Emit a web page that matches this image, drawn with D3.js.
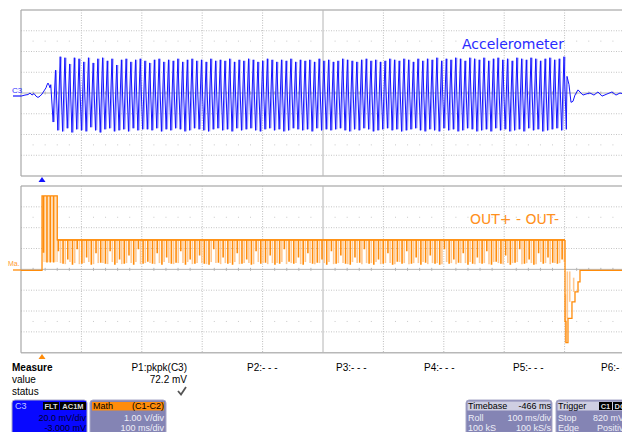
<!DOCTYPE html>
<html><head><meta charset="utf-8">
<script src="https://cdn.jsdelivr.net/npm/d3@7"></script>
<style>body{margin:0;background:#fff}svg{display:block;font-family:"Liberation Sans",Arial,sans-serif}</style>
</head><body><svg id="c" width="622" height="432"></svg>
<script>
// ---- data ----
// time axis: ms (roll mode, 100 ms/div, timebase -466 ms)
const timeDomain = [-966, 34];
// Accelerometer (C3), mV, 20 mV/div
const accelPreT = [-966,-959.4,-954.4,-951.1,-947.8,-944.5,-941.2,-937.9,-934.5,-931.2,-927.9,-924.6,-923.0,-921.3,-919.6,-918.0];
const accelPreV = [-3,-2,-1.5,0,-2,-0.5,-3,-4.3,-3,-1,2,5,7.7,9.6,7.7,5];
const burstStartT = -916.7;   // first cycle
const burstPeriod = 7.795;    // ms per cycle
const accelHigh = [
 8,22,35,34,28,34,33,30,34,29,33,34,31,33,27,32,33,30,32,33,
 31,29,32,33,30,32,31,33,30,32,33,31,32,30,33,31,32,31,33,30,
 32,31,33,32,30,31,33,32,30,32,31,33,30,32,31,32,30,33,31,32,
 30,31,33,32,31,30,32,33,31,32,30,31,33,32,31,33,32,30,33,31,
 33,32,34,31,33,32,34,33,31,34,33,32,34,31,33,34,32,33,31,34,
 33,32,34,33,31,33,34,32,33,35];
const accelLow = [
 -28,-36,-37,-34,-38,-35,-36,-37,-33,-36,-38,-35,-34,-37,-36,-35,-37,-34,-36,-35,
 -35,-36,-34,-37,-35,-36,-34,-35,-37,-36,-34,-35,-36,-37,-35,-34,-36,-35,-37,-34,
 -36,-35,-34,-36,-37,-35,-34,-36,-35,-37,-36,-34,-35,-36,-35,-37,-34,-36,-35,-36,
 -35,-34,-36,-37,-35,-36,-34,-35,-37,-36,-35,-34,-36,-35,-37,-36,-35,-34,-36,-37,
 -35,-36,-37,-34,-36,-35,-37,-36,-34,-35,-37,-36,-35,-37,-34,-36,-35,-37,-36,-35,
 -37,-34,-36,-35,-37,-36,-35,-34,-36,-35];
const accelPostT = [-62.0,-58.7,-55.4,-52.1,-48.8,-43.8,-38.9,-35.6,-30.6,-24.0,-17.4,-10.8,-4.1,4.1,12.4,19.1,25.7,32.3];
const accelPostV = [16,8,-9,-8,-2,3,0,-2,-1,0,-2,1,-3,-1,1,-2,0,-1];

// Math (C1-C2), V, 1 V/div
const outStartT = [-966,-931.2];
const outStartV = [-0.05,-0.05];
const outHighLevel = 3.53, outHighStart = -931.2, outHighEnd = -906.0;
const outHighSpikeT = [-928.8,-923.2,-917.7,-912.2];
const outHighSpikeV = [0.83,0.36,0.36,0.36];
const outHighLightT = [-926.0,-920.5,-915.0,-909.5,-906.5];
const outLevel = 1.41;
const outSpikeStartT = -904.4;
const outSpikeDark = [
 0.9,0.3,0.5,0.25,1.0,0.3,0.6,0.25,0.8,0.35,0.3,0.9,0.25,0.5,0.3,0.7,0.25,1.0,0.3,0.4,
 0.3,0.8,0.25,0.6,0.3,0.35,0.9,0.25,0.5,0.3,0.7,0.3,0.25,1.0,0.35,0.6,0.3,0.25,0.8,0.3,
 0.5,0.25,0.9,0.3,0.35,0.7,0.25,0.3,1.0,0.4,0.3,0.6,0.25,0.8,0.3,0.35,0.5,0.25,0.9,0.3,
 0.7,0.3,0.25,0.6,0.35,1.0,0.3,0.25,0.5,0.3,0.8,0.25,0.4,0.3,0.9,0.3,0.6,0.25,0.35,0.7,
 0.3,0.25,1.0,0.3,0.5,0.35,0.8,0.25,0.3,0.6,0.3,0.9,0.25,0.4,0.3,0.7,0.25,0.35,1.0,0.3,
 0.5,0.25,0.8,0.3,0.6,0.35,0.3,0.5];
const outSpikeLight = [
 0.3,0.25,0.35,0.3,0.25,0.3,0.35,0.25,0.3,0.3,0.25,0.35,0.3,0.25,0.3,0.3,0.35,0.25,0.3,0.3,
 0.25,0.3,0.35,0.3,0.25,0.3,0.3,0.35,0.25,0.3,0.3,0.25,0.35,0.3,0.25,0.3,0.3,0.35,0.25,0.3,
 0.3,0.25,0.35,0.3,0.25,0.3,0.3,0.35,0.25,0.3,0.3,0.25,0.35,0.3,0.25,0.3,0.3,0.35,0.25,0.3,
 0.3,0.25,0.35,0.3,0.25,0.3,0.3,0.35,0.25,0.3,0.3,0.25,0.35,0.3,0.25,0.3,0.3,0.35,0.25,0.3,
 0.3,0.25,0.35,0.3,0.25,0.3,0.3,0.35,0.25,0.3,0.3,0.25,0.35,0.3,0.25,0.3,0.3,0.35,0.25,0.3,
 0.3,0.25,0.35,0.3,0.25,0.3,0.3,0.35];
const outLevelEndT = -65.3;
const outPostT = [-65.3,-63.7,-60.4,-53.8,-48.8,-43.8,-40.5,34];
const outPostV = [-2.5,-3.52,-2.35,-1.56,-1.08,-0.6,-0.05,-0.05];
const outPostLightT = [-64.5,-61.5,-57.5,-51.0];
const outPostLightV = [-1.2,-0.1,-0.1,-0.4];

const measureLabels = ["P1:pkpk(C3)","P2:- - -","P3:- - -","P4:- - -","P5:- - -","P6:- - -"];
const measureValue = "72.2 mV";

// ---- drawing ----
const svg = d3.select("#c");
const x = d3.scaleLinear().domain(timeDomain).range([21, 625]);
const yTop = d3.scaleLinear().domain([-80, 80]).range([176, 10]);
const yBot = d3.scaleLinear().domain([-4, 4]).range([352.7, 186]);
const divW = (x.range()[1]-x.range()[0])/10;

function grid(y, top, bot) {
  const g = svg.append("g");
  const divH = (bot-top)/8;
  for (let k=1;k<10;k++){
    const xx = x.range()[0]+k*divW;
    g.append("line").attr("x1",xx).attr("x2",xx).attr("y1",top).attr("y2",bot)
      .attr("stroke", k===5?"#b4b4b4":"#bdbdbd").attr("stroke-width",1)
      .attr("stroke-dasharray", k===5?null:"1,1.5");
  }
  for (let k=1;k<8;k++){
    const yy = top+k*divH;
    g.append("line").attr("x1",21).attr("x2",622).attr("y1",yy).attr("y2",yy)
      .attr("stroke", k===4?"#b4b4b4":"#c4c4c4").attr("stroke-width",1)
      .attr("stroke-dasharray", k===4?null:"1,1.5");
  }
  const cy = (top+bot)/2;
  for (let k=0;k<10;k++) for (let m=1;m<5;m++){
    const xx = x.range()[0]+k*divW+m*divW/5;
    if (xx>622) continue;
    [cy-2.5*divH, cy+2.5*divH].forEach(yy=>g.append("rect").attr("x",xx-0.5).attr("y",yy-0.5).attr("width",1).attr("height",1).attr("fill","#c8c8c8"));
    g.append("line").attr("x1",xx).attr("x2",xx).attr("y1",cy-1.5).attr("y2",cy+1.5).attr("stroke","#b4b4b4");
  }
  g.append("line").attr("x1",21).attr("x2",622).attr("y1",top).attr("y2",top).attr("stroke","#b8b8b8").attr("stroke-width",1.5);
  g.append("line").attr("x1",21).attr("x2",622).attr("y1",bot).attr("y2",bot).attr("stroke","#b8b8b8").attr("stroke-width",1.5);
  g.append("line").attr("x1",21).attr("x2",21).attr("y1",top).attr("y2",bot).attr("stroke","#a8a8a8").attr("stroke-width",1.2);
}
grid(yTop, 10, 176);
grid(yBot, 186, 352.7);

// accelerometer trace
const accPts = accelPreT.map((t,i)=>[t, accelPreV[i]]);
accelHigh.forEach((h,i)=>{
  accPts.push([burstStartT+i*burstPeriod, h]);
  accPts.push([burstStartT+(i+0.5)*burstPeriod, accelLow[i]]);
});
accelPostT.forEach((t,i)=>accPts.push([t, accelPostV[i]]));
const accLine = d3.line().x(d=>x(d[0])).y(d=>yTop(d[1]));
// light envelope: rising edges, slightly offset
const lg = svg.append("g").attr("fill","none").attr("stroke","#9a9aff").attr("stroke-width",1.3).attr("transform","translate(1.1,0)");
accelHigh.forEach((h,i)=>{
  if (i+1>=accelHigh.length) return;
  lg.append("path").attr("d", accLine([[burstStartT+(i+0.5)*burstPeriod, accelLow[i]],[burstStartT+(i+1)*burstPeriod, accelHigh[i+1]]]));
});
svg.append("path").attr("d", accLine(accPts)).attr("fill","none").attr("stroke","#1414ff").attr("stroke-width",1);
svg.append("line").attr("x1",13).attr("x2",21).attr("y1",96).attr("y2",96).attr("stroke","#1414ff").attr("stroke-width",1.2);
svg.append("text").attr("x",12).attr("y",93).attr("font-size",8).attr("fill","#3030ff").text("C3");

// math trace
const oLine = d3.line().x(d=>x(d[0])).y(d=>yBot(d[1]));
const light = svg.append("g").attr("stroke","#ffc890").attr("stroke-width",1.6).attr("fill","none");
svg.append("rect").attr("x",x(outHighStart)+1).attr("y",yBot(outHighLevel)).attr("width",x(outHighEnd)-x(outHighStart)-1)
  .attr("height",yBot(0.35)-yBot(outHighLevel)).attr("fill","#ffe2c0");
outHighLightT.forEach(t=>light.append("path").attr("d",oLine([[t,outHighLevel],[t,0.35]])));
outSpikeLight.forEach((v,i)=>{const t=outSpikeStartT+(i+0.5)*burstPeriod;
  light.append("path").attr("d",oLine([[t,outLevel],[t,v]]));});
outPostLightT.forEach((t,i)=>light.append("path").attr("d",oLine([[t,outPostV[Math.min(i+1,outPostV.length-1)]],[t,outPostLightV[i]]])));
const oPts = outStartT.map((t,i)=>[t,outStartV[i]]);
oPts.push([outHighStart, outHighLevel]);
outHighSpikeT.forEach((t,i)=>{oPts.push([t,outHighLevel],[t,outHighSpikeV[i]],[t+0.4,outHighSpikeV[i]],[t+0.4,outHighLevel]);});
oPts.push([outHighEnd,outHighLevel],[outHighEnd,outLevel]);
outSpikeDark.forEach((v,i)=>{const t=outSpikeStartT+i*burstPeriod;
  oPts.push([t,outLevel],[t,v],[t+0.5,v],[t+0.5,outLevel]);});
oPts.push([outLevelEndT,outLevel]);
const stepPts = outPostT.map((t,i)=>[t,outPostV[i]]);
svg.append("path").attr("d", oLine(oPts)).attr("fill","none").attr("stroke","#ff8c0a").attr("stroke-width",1.3);
svg.append("line").attr("x1",x(outHighEnd)).attr("x2",x(outLevelEndT)).attr("y1",yBot(outLevel)).attr("y2",yBot(outLevel))
  .attr("stroke","#ff8c0a").attr("stroke-width",1.6);
svg.append("path").attr("d", d3.line().curve(d3.curveStepAfter).x(d=>x(d[0])).y(d=>yBot(d[1]))([[outLevelEndT,outLevel]].concat(stepPts)))
  .attr("fill","none").attr("stroke","#ff8c0a").attr("stroke-width",1.3);
svg.append("line").attr("x1",13).attr("x2",21).attr("y1",270).attr("y2",270).attr("stroke","#ff8c0a").attr("stroke-width",1.3);
svg.append("text").attr("x",8).attr("y",266).attr("font-size",7).attr("fill","#ff9a30").text("Ma.");

// labels
svg.append("text").attr("x",462).attr("y",49).attr("font-family","DejaVu Sans").attr("font-size",14).attr("fill","#2a2aff").text("Accelerometer");
svg.append("text").attr("x",470).attr("y",224).attr("font-family","DejaVu Sans").attr("font-size",14).attr("fill","#ff9020").text("OUT+ - OUT-");

// trigger markers
svg.append("path").attr("d","M38.5,182 L42,177 L45.5,182 Z").attr("fill","#1414ff");
svg.append("path").attr("d","M38.5,359 L42,354 L45.5,359 Z").attr("fill","#ff8c0a");

// measure table
const mt = svg.append("g").attr("font-size",10).attr("fill","#000");
mt.append("text").attr("x",12).attr("y",371).attr("font-weight","bold").text("Measure");
mt.append("text").attr("x",12).attr("y",383).text("value");
mt.append("text").attr("x",12).attr("y",395).text("status");
const mX = [187, 247, 336, 424, 513, 601];
measureLabels.forEach((l,i)=>{
  mt.append("text").attr("x",mX[i]).attr("y",371).attr("text-anchor",i===0?"end":"start").text(l);
});
mt.append("text").attr("x",187).attr("y",383).attr("text-anchor","end").text(measureValue);
mt.append("path").attr("d","M178,391 L181,394.5 L186,387").attr("fill","none").attr("stroke","#555").attr("stroke-width",1.8);

// info boxes
function box(x0,w,fill){
  svg.append("rect").attr("x",x0).attr("y",400).attr("width",w).attr("height",45).attr("rx",3)
    .attr("fill",fill).attr("stroke","#a8a8c8").attr("stroke-width",1);
}
const fs = 9;
box(12,75,"#0808ff");
svg.append("text").attr("x",15).attr("y",409).attr("font-size",fs).attr("fill","#c0c8ff").text("C3");
svg.append("rect").attr("x",43).attr("y",402).attr("width",16).attr("height",8).attr("fill","#000");
svg.append("rect").attr("x",60).attr("y",402).attr("width",26).attr("height",8).attr("fill","#000");
svg.append("text").attr("x",51).attr("y",409).attr("font-size",7.5).attr("font-weight","bold").attr("text-anchor","middle").attr("fill","#ddd").text("FLT");
svg.append("text").attr("x",73).attr("y",409).attr("font-size",7.5).attr("font-weight","bold").attr("text-anchor","middle").attr("fill","#ddd").text("AC1M");
svg.append("text").attr("x",86).attr("y",420.5).attr("font-size",fs).attr("text-anchor","end").attr("fill","#000030").text("20.0 mV/div");
svg.append("text").attr("x",86).attr("y",430.5).attr("font-size",fs).attr("text-anchor","end").attr("fill","#000030").text("-3.000 mV");

box(90,76,"#8484b4");
svg.append("rect").attr("x",92).attr("y",402).attr("width",72).attr("height",8.5).attr("fill","#ff8c0a");
svg.append("text").attr("x",93).attr("y",409).attr("font-size",fs).attr("fill","#000").text("Math");
svg.append("text").attr("x",164).attr("y",409).attr("font-size",fs).attr("text-anchor","end").attr("fill","#000").text("(C1-C2)");
svg.append("text").attr("x",164).attr("y",420.5).attr("font-size",fs).attr("text-anchor","end").attr("fill","#eeeef8").text("1.00 V/div");
svg.append("text").attr("x",164).attr("y",430.5).attr("font-size",fs).attr("text-anchor","end").attr("fill","#eeeef8").text("100 ms/div");

box(466,86,"#8484b4");
svg.append("rect").attr("x",467.5).attr("y",401.5).attr("width",83).attr("height",9).attr("fill","#cfcfe2");
svg.append("text").attr("x",468).attr("y",409).attr("font-size",fs).attr("fill","#000").text("Timebase");
svg.append("text").attr("x",551).attr("y",409).attr("font-size",fs).attr("text-anchor","end").attr("fill","#000").text("-466 ms");
svg.append("text").attr("x",468).attr("y",420.5).attr("font-size",fs).attr("fill","#eeeef8").text("Roll");
svg.append("text").attr("x",551).attr("y",420.5).attr("font-size",fs).attr("text-anchor","end").attr("fill","#eeeef8").text("100 ms/div");
svg.append("text").attr("x",468).attr("y",430.5).attr("font-size",fs).attr("fill","#eeeef8").text("100 kS");
svg.append("text").attr("x",551).attr("y",430.5).attr("font-size",fs).attr("text-anchor","end").attr("fill","#eeeef8").text("100 kS/s");

box(556,90,"#8484b4");
svg.append("rect").attr("x",557.5).attr("y",401.5).attr("width",70).attr("height",9).attr("fill","#cfcfe2");
svg.append("text").attr("x",558).attr("y",409).attr("font-size",fs).attr("fill","#000").text("Trigger");
svg.append("rect").attr("x",599).attr("y",402).attr("width",13).attr("height",8).attr("fill","#000");
svg.append("rect").attr("x",613).attr("y",402).attr("width",12).attr("height",8).attr("fill","#000");
svg.append("text").attr("x",605.5).attr("y",409).attr("font-size",7.5).attr("font-weight","bold").attr("text-anchor","middle").attr("fill","#ddd").text("C1");
svg.append("text").attr("x",614.5).attr("y",409).attr("font-size",7.5).attr("font-weight","bold").attr("fill","#ddd").text("DC");
svg.append("text").attr("x",558).attr("y",420.5).attr("font-size",fs).attr("fill","#eeeef8").text("Stop");
svg.append("text").attr("x",593).attr("y",420.5).attr("font-size",fs).attr("fill","#eeeef8").text("820 mV");
svg.append("text").attr("x",558).attr("y",430.5).attr("font-size",fs).attr("fill","#eeeef8").text("Edge");
svg.append("text").attr("x",597).attr("y",430.5).attr("font-size",fs).attr("fill","#eeeef8").text("Positive");
</script></body></html>
